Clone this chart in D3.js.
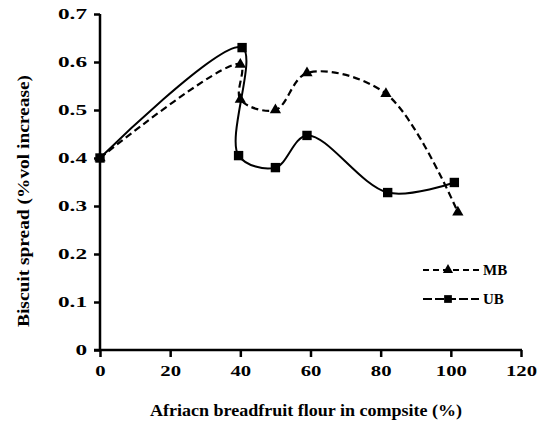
<!DOCTYPE html>
<html>
<head>
<meta charset="utf-8">
<script src="https://cdn.jsdelivr.net/npm/d3@7"></script>
<style>
  body { margin: 0; background: #fff; }
  svg text { font-family: "Liberation Serif", "Times New Roman", Times, serif; fill: #000; }
  .tick text { font-size: 15px; font-weight: bold; }
  .title { font-size: 16px; font-weight: bold; }
  .legend { font-size: 15px; font-weight: bold; }
</style>
</head>
<body>
<svg width="537" height="426"></svg>
<script>
// data
const mbX = [0, 40, 40, 50, 59, 81.5, 102];
const mbY = [0.4, 0.595, 0.522, 0.5, 0.577, 0.534, 0.287];
const ubX = [0, 40.5, 39.5, 50, 59, 82, 101];
const ubY = [0.4, 0.63, 0.405, 0.38, 0.447, 0.328, 0.349];
const xTicks = [0, 20, 40, 60, 80, 100, 120];
const yTicks = [0, 0.1, 0.2, 0.3, 0.4, 0.5, 0.6, 0.7];

const svg = d3.select('svg');
const plotL = 100, plotR = 521, plotT = 14, plotB = 350;

const x = d3.scaleLinear().domain([0, 120]).range([plotL, plotR]);
const y = d3.scaleLinear().domain([0, 0.7]).range([plotB, plotT]);

// widen the glyphs the way the source picture is stretched
function stretch(sel, k) {
  sel.each(function () {
    const w = this.getComputedTextLength();
    d3.select(this).attr('textLength', w * k).attr('lengthAdjust', 'spacingAndGlyphs');
  });
}

// axes
const xAxis = svg.append('g')
  .attr('transform', `translate(0, ${plotB})`)
  .call(d3.axisBottom(x).tickValues(xTicks).tickSize(7).tickPadding(8).tickFormat(d3.format('d')));
const yAxis = svg.append('g')
  .attr('transform', `translate(${plotL}, 0)`)
  .call(d3.axisLeft(y).tickValues(yTicks).tickSize(6).tickPadding(7)
    .tickFormat(d => d === 0 ? '0' : d3.format('.1f')(d)));

[xAxis, yAxis].forEach(a => {
  a.attr('font-family', null).attr('font-size', null);
  a.selectAll('path, line').attr('stroke', '#000').attr('stroke-width', 2.5);
  a.select('.domain').remove();
});
stretch(xAxis.selectAll('text'), 1.38);
stretch(yAxis.selectAll('text'), 1.55);

xAxis.append('line').attr('x1', plotL - 6).attr('x2', plotR + 1).attr('stroke', '#000').attr('stroke-width', 2.5);
yAxis.append('line').attr('y1', plotT).attr('y2', plotB + 1).attr('stroke', '#000').attr('stroke-width', 2.5);

// axis titles
svg.append('text')
  .attr('class', 'title')
  .attr('x', 306)
  .attr('y', 416)
  .attr('text-anchor', 'middle')
  .attr('textLength', 312)
  .attr('lengthAdjust', 'spacingAndGlyphs')
  .text('Afriacn breadfruit flour in compsite (%)');

svg.append('text')
  .attr('class', 'title')
  .attr('transform', 'translate(29, 201) rotate(-90)')
  .attr('text-anchor', 'middle')
  .attr('textLength', 252)
  .attr('lengthAdjust', 'spacingAndGlyphs')
  .text('Biscuit spread (%vol increase)');

// lines
const line = d3.line().x(d => x(d[0])).y(d => y(d[1])).curve(d3.curveCatmullRom.alpha(0.5));
const mb = mbX.map((v, i) => [v, mbY[i]]);
const ub = ubX.map((v, i) => [v, ubY[i]]);

svg.append('path')
  .attr('d', line(ub))
  .attr('fill', 'none')
  .attr('stroke', '#000')
  .attr('stroke-width', 2);

svg.append('path')
  .attr('d', line(mb))
  .attr('fill', 'none')
  .attr('stroke', '#000')
  .attr('stroke-width', 2.2)
  .attr('stroke-dasharray', '7,4');

const tri = d3.symbol().type(d3.symbolTriangle).size(55);
const sq = d3.symbol().type(d3.symbolSquare).size(88);
const triSmall = d3.symbol().type(d3.symbolTriangle).size(45);
const sqSmall = d3.symbol().type(d3.symbolSquare).size(60);

svg.selectAll('.mb')
  .data(mb)
  .enter()
  .append('path')
  .attr('transform', d => `translate(${x(d[0])}, ${y(d[1])})`)
  .attr('d', tri)
  .attr('fill', '#000');

svg.selectAll('.ub')
  .data(ub)
  .enter()
  .append('path')
  .attr('transform', d => `translate(${x(d[0])}, ${y(d[1])})`)
  .attr('d', sq)
  .attr('fill', '#000');

// legend
const legend = [
  { name: 'MB', y: 270, sym: triSmall, dash: '6,4' },
  { name: 'UB', y: 299, sym: sqSmall, dash: '9,3' }
];
const lg = svg.selectAll('.lg')
  .data(legend)
  .enter()
  .append('g');
lg.append('line')
  .attr('x1', 423).attr('x2', 479)
  .attr('y1', d => d.y).attr('y2', d => d.y)
  .attr('stroke', '#000').attr('stroke-width', 2)
  .attr('stroke-dasharray', d => d.dash);
lg.append('path')
  .attr('transform', d => `translate(448, ${d.y})`)
  .attr('d', d => d.sym())
  .attr('fill', '#000');
lg.append('text')
  .attr('class', 'legend')
  .attr('x', 483)
  .attr('y', d => d.y + 5)
  .text(d => d.name);
</script>
</body>
</html>
